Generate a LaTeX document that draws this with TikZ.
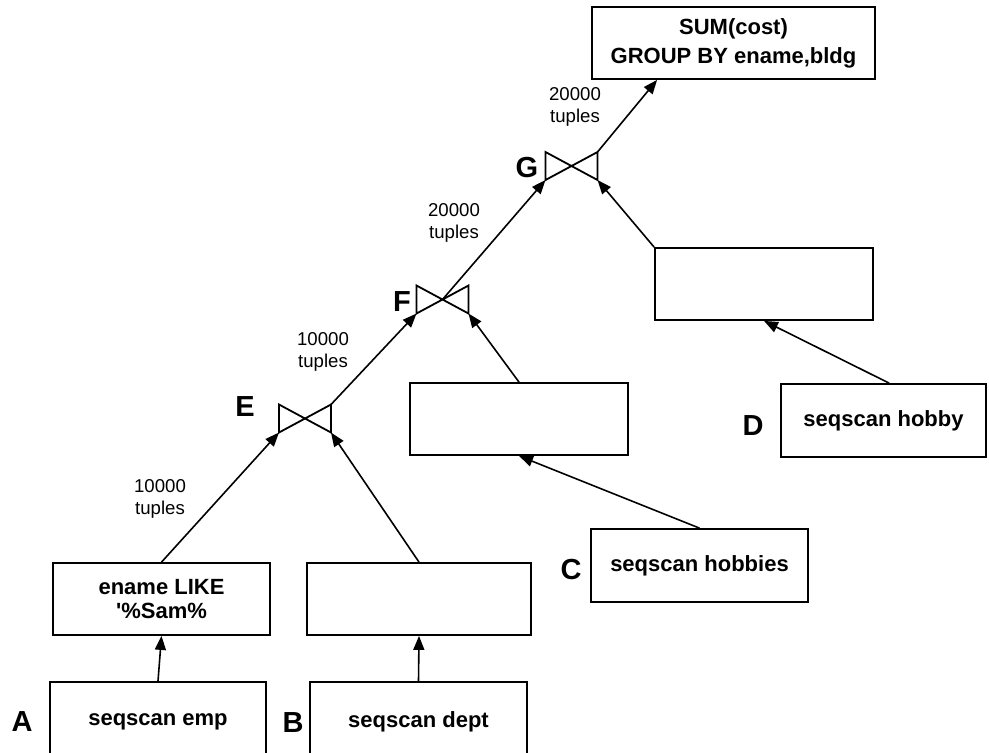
\documentclass[tikz,border=0pt]{standalone}
\usepackage{fontspec}
\setmainfont{Liberation Sans}
\usetikzlibrary{positioning, arrows.meta}

\begin{document}
\begin{tikzpicture}[x=0.5pt, y=-0.5pt,
    opbox/.style={draw, line width=0.9pt, inner sep=0pt, align=center, font=\fontsize{11}{12}\selectfont\bfseries},
    flow/.style={-{Triangle[length=7pt,width=5.5pt]}, line width=0.8pt},
    bowtie/.style={line width=0.9pt, line join=miter},
    tag/.style={font=\fontsize{14.5}{16}\selectfont\bfseries},
    count/.style={align=center, font=\fontsize{9.3}{11}\selectfont}]
    \useasboundingbox (0,0) rectangle (989,752);

    % Draw operator boxes
    \node[opbox, minimum width=141.5pt, minimum height=36pt, font=\fontsize{11}{14.5}\selectfont\bfseries] (sum) at (733.5,43) {SUM(cost)\\GROUP BY ename,bldg};
    \node[opbox, minimum width=109pt, minimum height=36pt] (hobbysel) at (764,284) {};
    \node[opbox, minimum width=109pt, minimum height=36pt] (hobbiessel) at (519,419) {};
    \node[opbox, minimum width=112pt, minimum height=36pt] (deptsel) at (419,599) {};
    \node[opbox, minimum width=108.5pt, minimum height=36pt] (like) at (161.5,599) {ename LIKE\\\textquotesingle\%Sam\%};

    % Draw scans (bottom edges run off the page)
    \node[opbox, minimum width=108pt, minimum height=40pt] (emp) at (158,722) {seqscan emp};
    \node[opbox, minimum width=108.5pt, minimum height=40pt] (dept) at (418.5,722) {seqscan dept};
    \node[opbox, minimum width=108.5pt, minimum height=36.5pt] (hobbies) at (699.5,565.5) {seqscan hobbies};
    \node[opbox, minimum width=102.5pt, minimum height=36.5pt] (hobby) at (883.5,420.5) {seqscan hobby};

    % Draw join symbols
    \foreach \n/\cx/\cy in {E/305/418.5, F/442.5/299.5, G/571.5/166} {
      \coordinate (\n) at (\cx,\cy);
      \coordinate (\n-tl) at (\cx-26,\cy-14);
      \coordinate (\n-bl) at (\cx-26,\cy+14);
      \coordinate (\n-tr) at (\cx+26,\cy-14);
      \coordinate (\n-br) at (\cx+26,\cy+14);
      \draw[bowtie] (\n-tl) -- (\n-bl) -- (\n-tr) -- (\n-br) -- cycle;
    }

    % Letters
    \foreach \t/\x/\y in {A/22/722, B/293/723, C/571/569, D/753/426, E/245/407, F/402/302, G/527/168} {
      \node[tag] (tag\t) at (\x,\y) {\t};
    }

    % Tuple counts
    \foreach \i/\x/\y/\c in {1/160/499/10000, 2/323/352/10000, 3/454/223/20000, 4/575/107/20000} {
      \node[count] (count\i) at (\x,\y) {\c\\tuples};
    }

    % Draw the flow
    \draw[flow] (emp.north) -- (like.south);
    \draw[flow] (dept.north) -- (deptsel.south);
    \draw[flow] (like.north) -- (E-bl);
    \draw[flow] (deptsel.north) -- (E-br);
    \draw[flow] (E-tr) -- (F-bl);
    \draw[flow] (hobbies.north) -- (hobbiessel.south);
    \draw[flow] (hobbiessel.north) -- (F-br);
    \draw[flow] (F) -- (G-bl);
    \draw[flow] ([xshift=54.5pt]hobby.north west) -- (hobbysel.south);
    \draw[flow] (hobbysel.north west) -- (G-br);
    \draw[flow] (G-tr) -- ([xshift=33pt]sum.south west);
  \end{tikzpicture}
\end{document}
